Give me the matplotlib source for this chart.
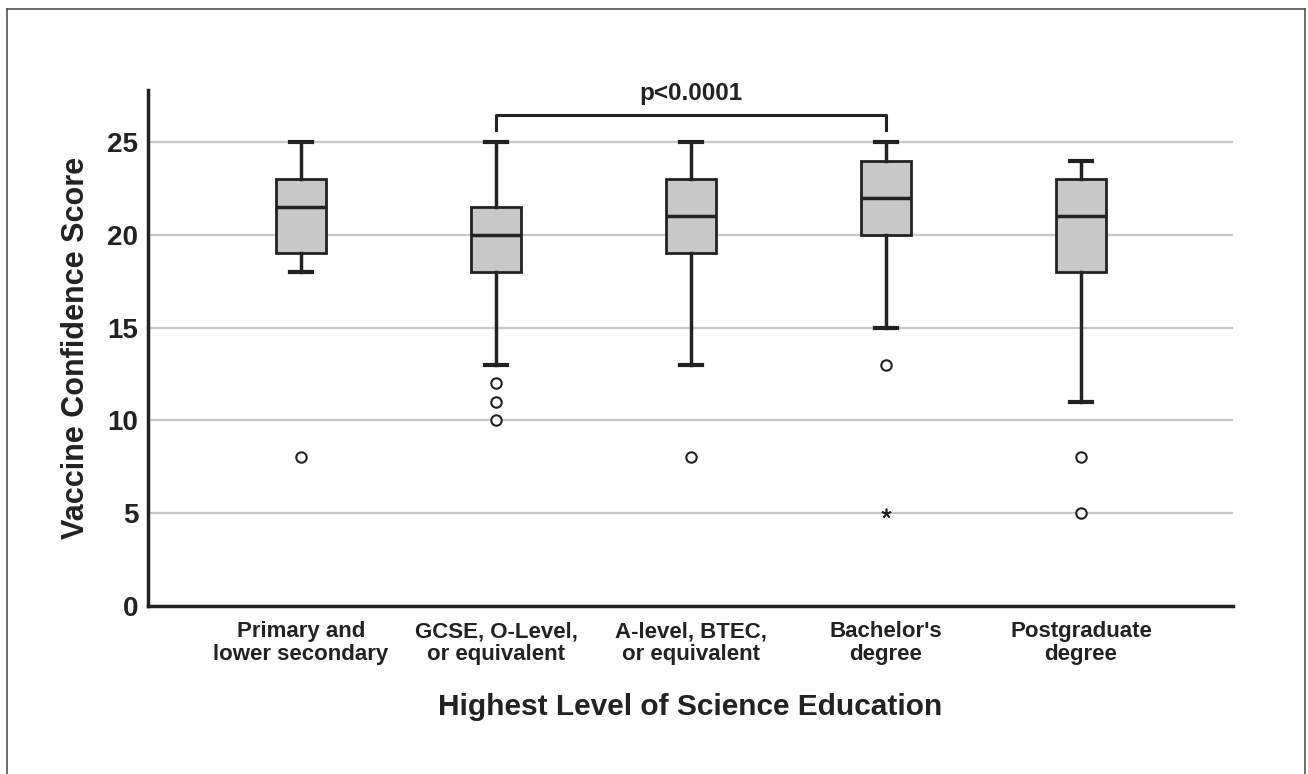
import matplotlib
matplotlib.use("Agg")
import matplotlib.pyplot as plt
from matplotlib.lines import Line2D

categories = ["Primary and\nlower secondary", "GCSE, O-Level,\nor equivalent",
              "A-level, BTEC,\nor equivalent", "Bachelor's\ndegree", "Postgraduate\ndegree"]
whislo = [18, 13, 13, 15, 11]
q1 = [19, 18, 19, 20, 18]
med = [21.5, 20, 21, 22, 21]
q3 = [23, 21.5, 23, 24, 23]
whishi = [25, 25, 25, 25, 24]
outliers = [[8], [12, 11, 10], [8], [13], [8, 5]]
extremes = [[], [], [], [5], []]
yticks = [0, 5, 10, 15, 20, 25]
bracket_groups = (1, 3)
p_text = "p<0.0001"

plt.rcParams['font.family'] = ['Liberation Sans', 'DejaVu Sans']
dark = '#222222'
fig = plt.figure(figsize=(13.08, 7.74), dpi=100)
ax = fig.add_axes([0.1131, 0.2171, 0.9427 - 0.1131, 0.8837 - 0.2171])

stats = []
for i in range(len(categories)):
    stats.append(dict(whislo=whislo[i], q1=q1[i], med=med[i], q3=q3[i],
                      whishi=whishi[i], fliers=outliers[i]))
pos = list(range(len(categories)))
ax.bxp(stats, positions=pos, widths=0.256, patch_artist=True, showfliers=True,
       boxprops=dict(facecolor='#c8c8c8', edgecolor=dark, linewidth=2.0),
       medianprops=dict(color=dark, linewidth=2.5),
       whiskerprops=dict(color=dark, linewidth=2.5),
       capprops=dict(color=dark, linewidth=3.0),
       capwidths=0.115,
       flierprops=dict(marker='o', markersize=7.5, markerfacecolor='white',
                       markeredgecolor=dark, markeredgewidth=1.5, linestyle='none'),
       zorder=3)
for i, ex in enumerate(extremes):
    if ex:
        ax.plot([pos[i]] * len(ex), ex, linestyle='none', marker=(5, 2, 0),
                markersize=7, color=dark, markeredgewidth=1.2, zorder=4)

ax.set_xlim(-0.785, 4.78)
ax.set_ylim(0, 27.8)
ax.set_yticks(yticks)
ax.set_yticklabels([str(t) for t in yticks], fontsize=20, fontweight='bold', color=dark)
ax.set_xticks(pos)
ax.set_xticklabels(categories, fontsize=16, fontweight='bold', color=dark, linespacing=1.1)
ax.tick_params(axis='both', length=0)
ax.tick_params(axis='y', pad=7)
ax.tick_params(axis='x', pad=11)
ax.yaxis.grid(True, color='#c8c8c8', linewidth=1.6, zorder=0)
ax.set_axisbelow(True)
for s in ['top', 'right']:
    ax.spines[s].set_visible(False)
for s in ['left', 'bottom']:
    ax.spines[s].set_linewidth(2.5)
    ax.spines[s].set_color(dark)

ax.set_ylabel("Vaccine Confidence Score", fontsize=22, fontweight='bold', color=dark, labelpad=12)
ax.set_xlabel("Highest Level of Science Education", fontsize=21.5, fontweight='bold', color=dark, labelpad=20)

a, b = bracket_groups
ax.plot([a, a, b, b], [25.65, 26.45, 26.45, 25.65], color=dark, linewidth=2.2,
        clip_on=False, zorder=5, solid_joinstyle='round')
ax.text((a + b) / 2, 27.0, p_text, ha='center', va='bottom', fontsize=17.5,
        fontweight='bold', color=dark)

# figure frame
for xs, ys in [([0.005, 0.005], [0, 0.988]), ([0.005, 0.9975], [0.988, 0.988]),
               ([0.9975, 0.9975], [0.988, 0])]:
    fig.add_artist(Line2D(xs, ys, transform=fig.transFigure, color='#555555', linewidth=1.2))

fig.savefig("out.png", dpi=100)
